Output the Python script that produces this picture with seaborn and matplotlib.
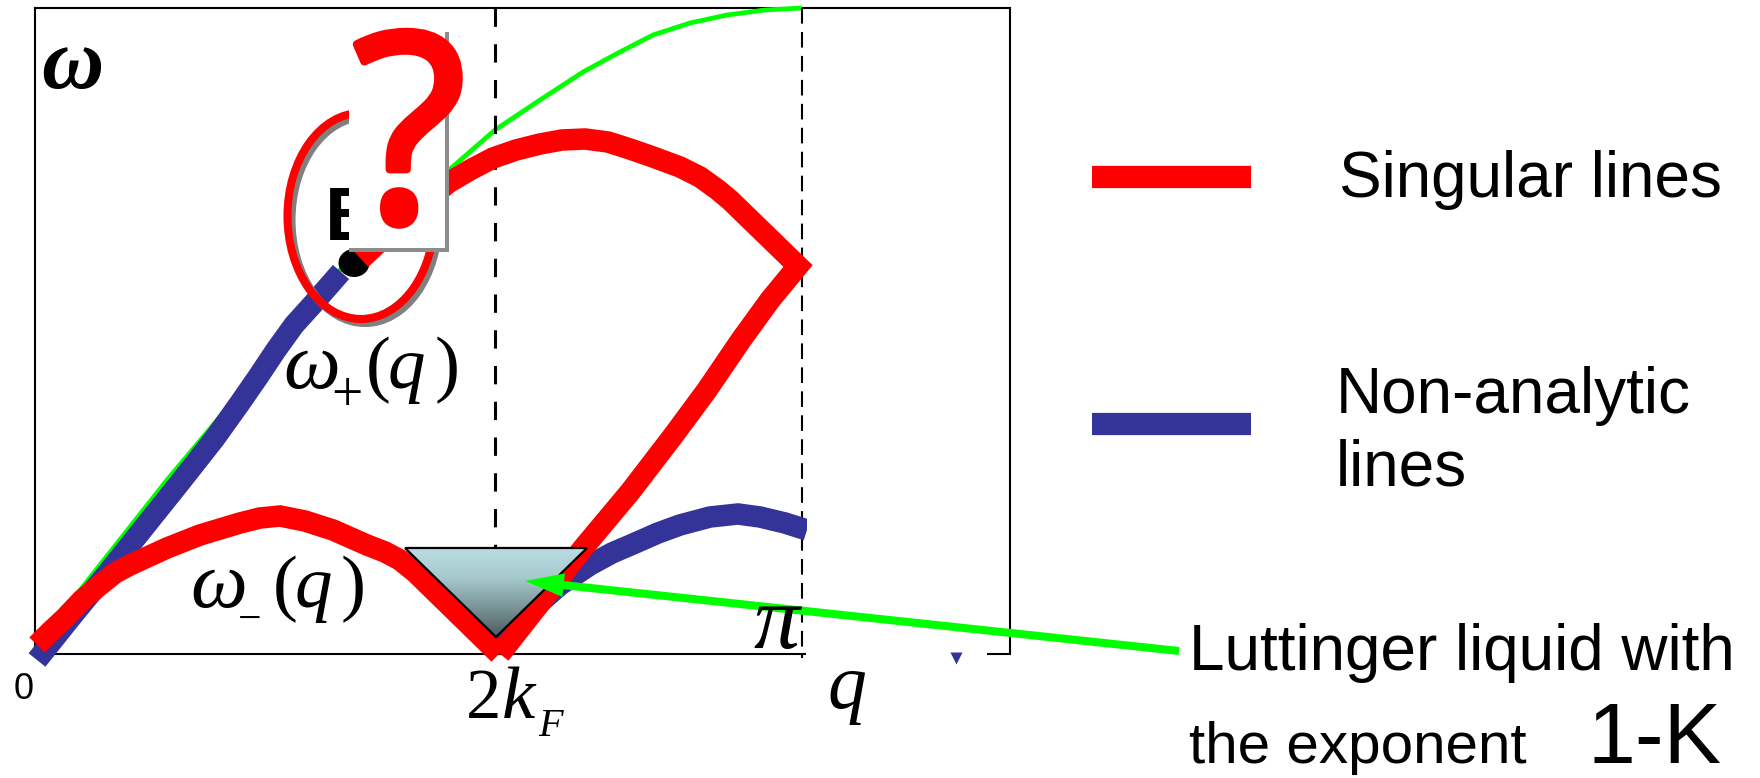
import numpy as np
import matplotlib
matplotlib.use("Agg")
import matplotlib.pyplot as plt
import matplotlib.patheffects as pe
import seaborn as sns
from matplotlib.colors import LinearSegmentedColormap
from matplotlib.patches import Ellipse, Polygon, Rectangle

# curves, q and omega in pixels from the origin
green_q = [0, 35, 132, 205, 305, 414, 437, 460, 505, 548, 583, 618, 655, 692, 730, 767]
green_w = [4, 51, 174, 261, 384, 484, 504, 524, 554, 582, 601, 619, 631, 639, 644, 646]

blue_up_q = [2, 38, 75, 111, 147, 180, 205, 223, 241, 259, 278, 306]
blue_up_w = [-6, 39, 84, 129, 174, 216, 251, 277, 304, 329, 350, 382]

red_up_q = [326, 370, 413, 435, 458, 481, 505, 527, 550, 573, 595, 618, 645, 665, 683, 695,
            763, 735, 706, 672, 638, 595, 549, 465]
red_up_w = [395, 436, 471, 484, 496, 504, 510, 514, 515, 512, 505, 497, 487, 477, 464, 454,
            388, 354, 314, 264, 218, 162, 107, 0]

red_low_q = [2, 15, 30, 47, 65, 80, 95, 132, 165, 205, 225, 245, 270, 298, 332, 350, 365, 380, 464]
red_low_w = [9, 22, 36, 54, 69, 81, 89, 106, 119, 131, 136, 138, 133, 124, 109, 102, 94, 82, 0]

blue_low_q = [463, 482, 500, 525, 555, 577, 598, 623, 645, 675, 703, 725, 750, 772]
blue_low_w = [4, 26, 47, 69, 89, 101, 110, 121, 129, 137, 140, 137, 131, 124]

q_2kf = 460
q_pi = 767
legend_labels = ["Singular lines", "Non-analytic", "lines"]
note_lines = ["Luttinger liquid with", "the exponent", "1-K"]

RED = "#ff0000"
BLUE = "#333399"
GREEN = "#00ff00"
SERIF = "Liberation Serif"
THICK = 15.5

sns.set_theme(style="white")
plt.rcParams["font.family"] = "Liberation Sans"

W, H = 1760, 778
fig = plt.figure(figsize=(W / 100, H / 100), dpi=100)
ax = fig.add_axes([35 / W, (H - 654) / H, 975 / W, 646 / H])
ax.set_xlim(0, 975)
ax.set_ylim(0, 646)
ax.set_xticks([])
ax.set_yticks([])
ax.patch.set_visible(False)


def px(x, y):
    # picture pixel to data
    return x - 35, 654 - y


def label(x, y, s, size, family="Liberation Sans", style="normal", z=20):
    dx, dy = px(x, y)
    return ax.text(dx, dy, s, fontsize=size, family=family, style=style,
                   ha="left", va="baseline", color="black", zorder=z, clip_on=False)


def curve(q, w, color, lw, z=4):
    sns.lineplot(x=q, y=w, color=color, lw=lw, ax=ax, sort=False, estimator=None,
                 legend=False, zorder=z, clip_on=False,
                 solid_capstyle="butt", solid_joinstyle="miter")


for s in ["left", "top", "right"]:
    ax.spines[s].set_color("black")
    ax.spines[s].set_linewidth(1.5)
    ax.spines[s].set_zorder(0.5)
ax.spines["bottom"].set_visible(False)
curve([0, 771], [0, 0], "black", 1.5, 0.5)
curve([952, 975], [0, 0], "black", 1.5, 0.5)

curve(green_q, green_w, GREEN, 3.4, 1)

sns.lineplot(x=[q_2kf, q_2kf], y=[646, 106], color="black", lw=2.2, ax=ax, zorder=2,
             legend=False, linestyle=(0, (6, 5.7)), estimator=None, sort=False)
sns.lineplot(x=[q_pi, q_pi], y=[646, -4], color="black", lw=1.5, ax=ax, zorder=2,
             legend=False, linestyle=(0, (7.5, 4)), estimator=None, sort=False,
             clip_on=False)

curve(blue_up_q, blue_up_w, BLUE, THICK, 3)
curve(blue_low_q, blue_low_w, BLUE, THICK, 3)
ax.add_patch(Rectangle(px(807, 550), 25, 40, fc="white", ec="none", zorder=3.2, clip_on=False))
ax.plot([921], [-4], marker="v", ms=9, color=BLUE, mec="none", clip_on=False, zorder=3)

ax.add_patch(Ellipse(px(354, 263), 31, 28, fc="black", ec="none", zorder=3.5))
curve(red_up_q, red_up_w, RED, THICK, 4)
curve(red_low_q, red_low_w, RED, THICK, 4)

# the circled mark with the question card on top
ax.add_patch(Ellipse(px(365, 220), 147, 206, fc="none", ec="#808080", lw=5.8, zorder=5))
ax.add_patch(Ellipse(px(361, 216), 147, 206, fc="none", ec=RED, lw=5.8, zorder=5.1))
label(325, 240, "E", 55, z=5.2).set_fontweight("bold")
ax.add_patch(Rectangle(px(349, 252), 100, 220, fc="#8c8c8c", ec="none", zorder=5.3))
ax.add_patch(Rectangle(px(349, 248), 96, 216, fc="white", ec="none", zorder=5.4))
qm = label(353, 221, "?", 188, family="Open Sans", z=5.5)
qm.set_color(RED)
qm.set_path_effects([pe.withStroke(linewidth=6, foreground=RED)])

# shaded wedge
tri = Polygon([px(405, 548), px(587, 548), px(496, 637)], closed=True, fc="none",
              ec="black", lw=1.6, zorder=6.1, joinstyle="miter")
ax.add_patch(tri)
cmap = LinearSegmentedColormap.from_list("wedge", ["#b9dde2", "#a6c9cd", "#7a9597", "#4a5c5c"])
x0, y0 = px(405, 637)
x1, y1 = px(587, 548)
img = ax.imshow(np.linspace(0, 1, 200).reshape(-1, 1), cmap=cmap, aspect="auto",
                extent=(x0, x1, y0, y1), origin="upper", zorder=6)
img.set_clip_path(tri)
ax.set_xlim(0, 975)
ax.set_ylim(0, 646)

# text on the plot
label(41, 88, "ω", 62, family=SERIF, style="italic").set_fontweight("bold")
label(283, 388, "ω", 58, family=SERIF, style="italic")
label(331, 411, "+", 40, family=SERIF)
label(366, 388, "(", 54, family=SERIF)
label(388, 388, "q", 54, family=SERIF, style="italic")
label(435, 388, ")", 54, family=SERIF)
label(190, 607, "ω", 58, family=SERIF, style="italic")
label(238, 631, "−", 30, family=SERIF)
label(273, 607, "(", 54, family=SERIF)
label(295, 607, "q", 54, family=SERIF, style="italic")
label(341, 607, ")", 54, family=SERIF)
label(466, 718, "2", 51, family=SERIF)
label(502, 718, "k", 54, family=SERIF, style="italic")
label(538, 736, "F", 29, family=SERIF, style="italic")
label(753, 648, "π", 66, family=SERIF, style="italic")
label(827, 708, "q", 56, family=SERIF, style="italic")
label(14, 699, "0", 26)

# legend
bar_q = [px(1092, 0)[0], px(1251, 0)[0]]
curve(bar_q, [px(0, 177)[1]] * 2, RED, 16)
curve(bar_q, [px(0, 424)[1]] * 2, BLUE, 16)
label(1339, 197, legend_labels[0], 46)
label(1336, 413, legend_labels[1], 46)
label(1336, 485, legend_labels[2], 46)
label(1189, 670, note_lines[0], 46)
label(1189, 763, note_lines[1], 42)
label(1587, 763, note_lines[2], 62)

# arrow to the wedge
ax.annotate("", xy=px(525, 581), xytext=px(1179, 651), annotation_clip=False, zorder=15,
            arrowprops=dict(facecolor=GREEN, edgecolor="none", width=5.8, headwidth=17,
                            headlength=28, shrink=0))

fig.savefig("out.png", dpi=100, facecolor="white")
